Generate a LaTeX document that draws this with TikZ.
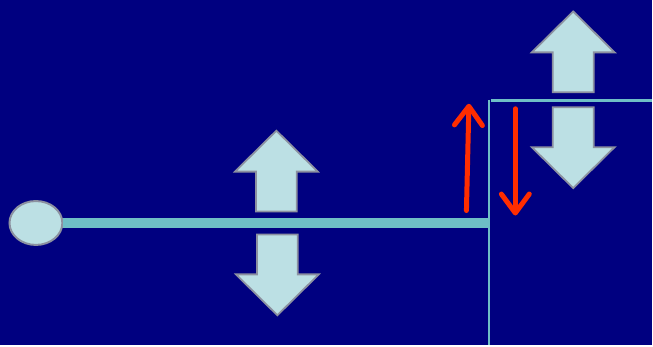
\documentclass[tikz,border=0pt]{standalone}
\usetikzlibrary{arrows.meta,shapes.geometric}
\definecolor{navy}{RGB}{0,0,128}
\definecolor{paleblue}{RGB}{188,224,228}
\definecolor{rimgray}{RGB}{140,145,160}
\definecolor{barteal}{RGB}{110,190,198}
\definecolor{redarrow}{RGB}{255,45,0}
\newcommand\blockup[2]{% tip x, tip y
  \draw[block] (#1,#2) -- ++(41.5,41) -- ++(-21,0) -- ++(0,40) -- ++(-41,0)
               -- ++(0,-40) -- ++(-21,0) -- cycle;}
\newcommand\blockdown[2]{%
  \draw[block] (#1,#2) -- ++(41.5,-41) -- ++(-21,0) -- ++(0,-40) -- ++(-41,0)
               -- ++(0,40) -- ++(-21,0) -- cycle;}

\begin{document}
\begin{tikzpicture}[x=1pt,y=-1pt,
  block/.style={fill=paleblue,draw=rimgray,line width=1.8pt,line join=miter},
  bob/.style={ellipse,fill=paleblue,draw=rimgray,line width=2pt,
              minimum width=53pt,minimum height=44pt,inner sep=0},
  push/.style={draw=redarrow,line width=5pt,line cap=round,
               -{Straight Barb[length=19pt,width=28pt,round]}}]
\fill[navy] (0,0) rectangle (653,346);
% rod and wall
\node[bob] (bob) at (36,223.5) {};
\coordinate (rodend) at (490,223.5);
\draw[barteal,line width=11pt] (bob.east) -- (rodend);
\draw[barteal,line width=1.8pt] (490,100) -- (490,346);
\draw[barteal,line width=3pt] (492,100.5) -- (653,100.5);
% block arrows
\blockup{277}{131}
\blockdown{278}{316}
\blockup{574.5}{11.5}
\blockdown{574.5}{188.5}
% red arrows
\draw[push] (467.5,211) -- (470,104);
\draw[push] (516.5,109) -- (516.5,216);
\end{tikzpicture}
\end{document}
